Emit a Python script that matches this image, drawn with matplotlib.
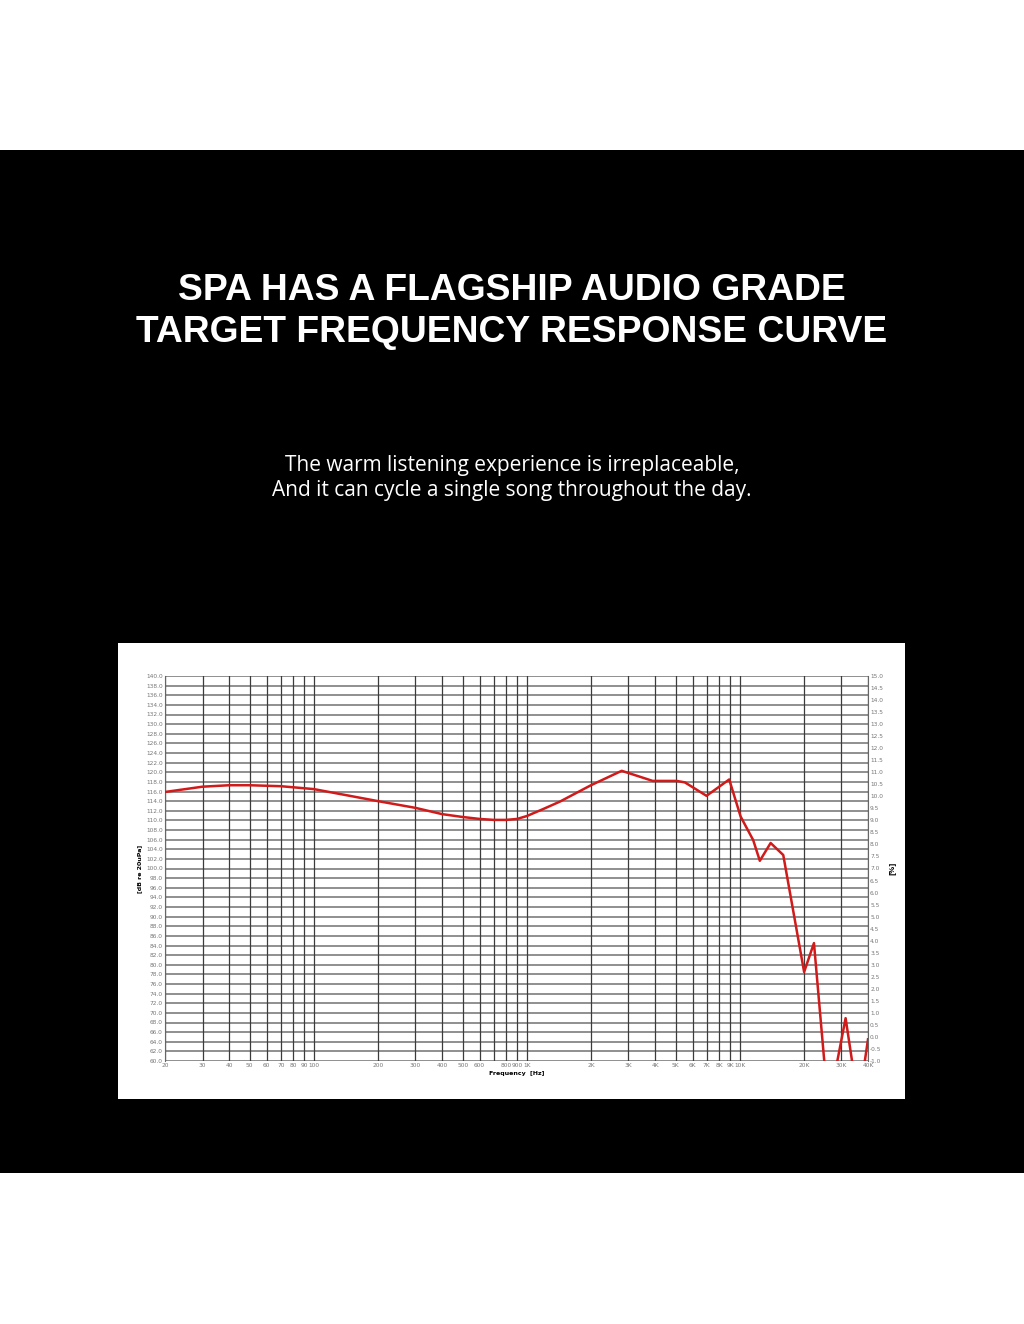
import matplotlib.pyplot as plt
from matplotlib.patches import Rectangle
from matplotlib.ticker import FixedLocator, NullLocator

# frequency response readings (Hz, dB)
freq = [20, 30, 40, 50, 70, 100, 200, 300, 400, 500, 600, 700, 800, 900, 1000,
        1200, 1430, 2000, 2790, 3900, 5050, 5520, 6980, 8920, 10090, 11560,
        12420, 13960, 16000, 20050, 22300, 25500, 27300, 31400, 35000, 37200, 40000]
spl = [115.9, 117.0, 117.3, 117.3, 117.1, 116.5, 114.0, 112.6, 111.3, 110.7, 110.3,
       110.1, 110.1, 110.3, 110.9, 112.4, 113.9, 117.3, 120.3, 118.2, 118.2, 117.9,
       115.1, 118.5, 110.8, 105.9, 101.6, 105.3, 102.8, 78.5, 84.5, 55.0, 55.0,
       68.9, 55.0, 55.0, 64.5]

x_ticks = [20, 30, 40, 50, 60, 70, 80, 90, 100, 200, 300, 400, 500, 600, 700, 800, 900,
           1000, 2000, 3000, 4000, 5000, 6000, 7000, 8000, 9000, 10000, 20000, 30000, 40000]
x_labels = ['20', '30', '40', '50', '60', '70', '80', '90', '100', '200', '300', '400',
            '500', '600', '', '800', '900', '1K', '2K', '3K', '4K', '5K', '6K', '7K',
            '8K', '9K', '10K', '20K', '30K', '40K']
y_left = [60 + 2 * i for i in range(41)]
y_right = [-1 + 0.5 * i for i in range(33)]

fig = plt.figure(figsize=(10.24, 13.24), dpi=100)
fig.patch.set_facecolor('white')

# black band and white chart panel
fig.add_artist(Rectangle((0, 1 - 1173 / 1324), 1, (1173 - 150) / 1324,
                         transform=fig.transFigure, facecolor='black', zorder=0))
fig.add_artist(Rectangle((118 / 1024, 1 - 1099 / 1324), (905 - 118) / 1024, (1099 - 643) / 1324,
                         transform=fig.transFigure, facecolor='white', zorder=0.5))

fig.text(0.5, 1 - 290 / 1324, 'SPA HAS A FLAGSHIP AUDIO GRADE', color='white',
         ha='center', va='center', fontsize=26.8, fontweight='bold', family='Liberation Sans')
fig.text(0.5, 1 - 333 / 1324, 'TARGET FREQUENCY RESPONSE CURVE', color='white',
         ha='center', va='center', fontsize=26.8, fontweight='bold', family='Liberation Sans')
fig.text(0.5, 1 - 466 / 1324, 'The warm listening experience is irreplaceable,',
         color='white', ha='center', va='center', fontsize=15, family='Open Sans')
fig.text(0.5, 1 - 490 / 1324, 'And it can cycle a single song throughout the day.',
         color='white', ha='center', va='center', fontsize=15, family='Open Sans')

ax = fig.add_axes([165 / 1024, 1 - 1061 / 1324, 703 / 1024, 385 / 1324])
ax.set_facecolor('white')
ax.set_zorder(2)
ax.set_xscale('log')
ax.set_xlim(20, 40000)
ax.set_ylim(60, 140)

ax.xaxis.set_major_locator(FixedLocator(x_ticks))
ax.xaxis.set_minor_locator(NullLocator())
ax.set_xticklabels(x_labels)
ax.set_yticks(y_left)
ax.set_yticklabels(['%.1f' % v for v in y_left])
ax.tick_params(labelsize=4.2, labelcolor='#777777', length=0, pad=1.5)

for v in y_left:
    ax.axhline(v, color='#727272', lw=1.1, zorder=1)
for f in x_ticks:
    ax.axvline(f, color='#3c3c3c', lw=0.9, zorder=1)

for s in ax.spines.values():
    s.set_visible(False)
ax.spines['left'].set_visible(True)
ax.spines['left'].set_color('#666666')
ax.spines['left'].set_linewidth(0.8)

ax.plot(freq, spl, color='#d11a1a', lw=1.8, zorder=3, clip_on=True)

ax2 = ax.twinx()
ax2.set_ylim(-1, 15)
ax2.set_yticks(y_right)
ax2.set_yticklabels(['%.1f' % v for v in y_right])
ax2.tick_params(labelsize=4.2, labelcolor='#777777', length=0, pad=1.5)
for s in ax2.spines.values():
    s.set_visible(False)
ax2.spines['right'].set_visible(True)
ax2.spines['right'].set_color('#666666')
ax2.spines['right'].set_linewidth(0.8)

ax.set_xlabel('Frequency  [Hz]', fontsize=4.5, fontweight='bold', labelpad=2)
ax.set_ylabel('[dB re 20uPa]', fontsize=4.5, fontweight='bold', labelpad=3)
ax2.set_ylabel('[%]', fontsize=5, fontweight='bold', labelpad=4)

fig.savefig('out.png', dpi=100, facecolor='white')
